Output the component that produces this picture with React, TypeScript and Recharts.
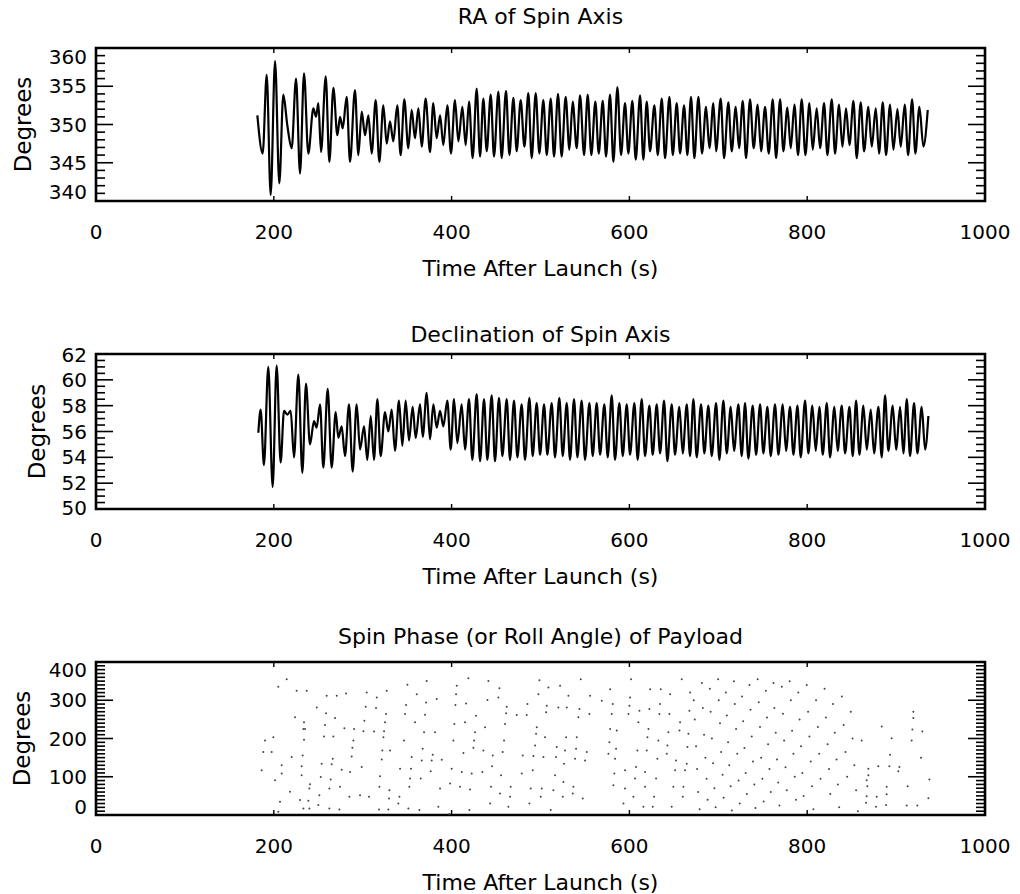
import React from "react";
import { ComposedChart, Line, Scatter, XAxis, YAxis, ReferenceArea, Label } from "recharts";

// RA of spin axis: peaks/troughs
const raTime = [
  181.5, 187.5, 192.0, 196.5, 201.4, 206.2, 210.7, 215.2, 220.1, 225.0, 229.5, 234.0, 238.8, 244.5, 247.5, 250.1,
  253.1, 258.4, 262.5, 267.0, 271.5, 274.5, 277.5, 282.0, 285.7, 291.3, 295.1, 298.9, 302.6, 306.4, 310.1, 314.6,
  318.7, 323.2, 327.0, 330.7, 334.4, 338.9, 342.7, 346.8, 351.3, 355.1, 358.8, 362.6, 366.4, 370.8, 375.7, 379.4,
  383.2, 387.0, 390.7, 395.2, 399.3, 403.8, 407.6, 412.1, 415.8, 419.6, 423.7, 428.2, 432.0,
  435.7, 439.5, 444.0, 447.7, 452.6, 456.3, 461.2, 465.0, 469.5, 473.2, 477.7, 481.9, 486.3, 490.1, 494.6, 498.7,
  503.2, 507.0, 511.5, 515.2, 519.7, 523.8, 528.3, 532.5, 536.2, 540.7, 544.5, 549.0, 553.1, 557.2, 561.7, 565.5,
  570.0, 573.7, 578.2, 582.0, 586.5, 590.6, 595.1, 598.8, 603.3, 607.1, 612.0, 615.7, 619.5, 623.2, 628.1, 631.9,
  636.4, 640.1, 645.0, 648.8, 653.2, 657.0, 661.5, 665.2, 669.3, 673.1, 677.6, 681.7, 686.2, 690.0, 694.5,
  697.5, 702.7, 706.5, 711.3, 715.1, 719.6, 723.3, 727.5, 731.2, 735.7, 739.8, 744.3, 748.1, 752.6, 756.7, 761.2,
  765.0, 769.5, 773.2, 777.7, 781.5, 785.6, 789.7, 793.8, 798.0, 802.5, 806.2, 810.7, 814.5, 819.0, 822.7, 827.6,
  831.3, 835.8, 839.6, 843.7, 847.5, 852.0, 855.7, 860.2, 864.0, 868.8, 872.6, 877.1, 880.8, 885.0, 888.7, 893.2,
  897.0, 901.5, 905.2, 909.7, 913.5, 918.0, 921.7, 926.2, 930.7, 935.6,
];
const raDeg = [
  351.2, 346.2, 356.5, 340.8, 358.3, 342.3, 353.9, 349.9, 346.9, 356.0, 343.6, 356.7, 346.2, 352.1, 351.0, 352.8,
  346.4, 356.3, 345.1, 354.8, 348.6, 351.0, 349.5, 353.6, 345.1, 354.5, 346.0, 351.7, 348.6, 351.2, 346.2, 353.2,
  345.1, 352.5, 347.5, 350.4, 347.8, 352.5, 346.0, 353.3, 346.9, 351.9, 348.2, 352.1, 347.1, 353.4, 346.4, 352.8,
  348.2, 351.2, 347.3, 352.5, 346.2, 353.2, 347.8, 352.3, 347.3, 353.0, 345.6, 354.7, 345.8,
  353.4, 346.5, 353.9, 345.8, 354.3, 345.6, 354.4, 346.0, 353.5, 346.5, 353.2, 347.1, 354.1, 345.6, 354.1, 346.2,
  353.2, 346.0, 353.4, 345.8, 354.0, 345.8, 353.6, 346.7, 353.0, 346.9, 353.8, 346.0, 353.9, 346.0, 353.0, 346.2,
  353.1, 345.8, 353.9, 345.1, 354.9, 346.0, 352.8, 346.2, 353.1, 345.4, 353.8, 345.4, 353.0, 346.5, 352.5, 346.0,
  353.4, 345.6, 353.6, 346.0, 352.8, 346.2, 352.5, 346.0, 353.6, 345.6, 353.6, 346.2, 352.3, 346.9, 352.8,
  346.5, 353.4, 345.6, 352.9, 346.5, 352.3, 346.9, 353.1, 345.6, 353.3, 346.9, 352.6, 346.5, 352.3, 346.2, 353.3,
  345.6, 353.3, 346.5, 352.2, 346.9, 352.6, 346.0, 353.3, 346.0, 352.8, 346.7, 352.1, 346.9, 352.8, 346.0, 353.3,
  346.2, 352.6, 347.1, 352.1, 347.3, 353.1, 345.6, 352.9, 346.5, 352.3, 347.1, 352.1, 346.2, 352.9, 346.0, 352.6,
  346.7, 352.0, 347.1, 352.6, 346.0, 353.3, 346.2, 352.3, 347.1, 351.9,
];

// Declination of spin axis
const decTime = [
  182.6, 185.2, 188.9, 193.8, 198.7, 203.2, 207.7, 211.5, 215.2, 219.0, 222.7, 227.6, 232.1, 236.2, 240.7, 245.2,
  248.2, 252.0, 255.7, 260.6, 265.1, 269.6, 272.6, 276.3, 280.1, 284.6, 288.7, 293.2, 297.0, 301.5, 305.2, 309.0,
  312.7, 316.5, 320.2, 325.1, 328.8, 332.6, 336.3, 340.8, 344.6, 348.3, 352.1, 356.2, 359.6, 364.5, 367.5, 372.0,
  375.7, 379.5, 383.2, 387.0, 390.7, 395.2, 399.0, 402.7, 406.5, 411.3, 415.1, 419.6, 423.3, 428.2, 432.0, 436.5,
  440.2, 445.1, 448.8, 453.3, 457.1, 462.0, 465.7, 470.2, 474.0, 478.8, 482.6, 487.5, 491.2, 495.7, 499.5, 504.0,
  507.7, 512.6, 516.3, 521.2, 525.0, 529.5, 533.2, 537.7, 541.5, 546.3, 550.1, 555.0, 558.7,
  563.2, 567.0, 571.8, 575.6, 580.1, 583.8, 588.7, 592.5, 597.0, 600.7, 605.6, 609.3, 613.8, 617.6, 622.5, 626.2,
  630.7, 634.5, 639.0, 642.7, 647.6, 651.3, 656.2, 660.0, 664.5, 668.2, 672.0, 675.7, 680.6, 684.3, 688.8, 692.6,
  697.5, 701.2, 705.7, 709.5, 714.0, 717.7, 722.6, 726.3, 730.1, 733.8, 738.7, 742.5, 747.0, 750.7, 755.2, 759.0,
  763.8, 767.6, 772.5, 776.2, 780.7, 784.5, 789.0, 792.7, 797.6, 801.3, 805.8, 809.6, 813.7, 817.5, 822.0, 825.7,
  830.6, 834.3, 838.8, 842.6, 847.5, 851.2, 855.0, 858.7, 863.2, 867.0, 871.5, 875.2, 880.1, 883.8, 887.6, 891.3,
  896.2, 900.0, 904.5, 908.2, 912.0, 915.7, 920.2, 924.0, 928.8, 932.6, 936.3,
];
const decDeg = [
  55.9, 57.7, 53.4, 61.0, 51.7, 61.1, 53.6, 57.6, 57.3, 57.6, 54.0, 60.4, 52.8, 59.7, 55.0, 56.8,
  56.3, 58.1, 53.2, 59.3, 53.2, 57.5, 55.5, 56.4, 54.1, 58.1, 52.9, 58.1, 54.6, 56.4, 53.8, 57.2,
  53.8, 58.5, 54.1, 57.5, 56.0, 57.7, 54.5, 58.4, 54.9, 58.4, 55.3, 57.9, 55.5, 58.1, 55.6, 59.0,
  55.4, 58.1, 56.3, 57.6, 56.4, 58.4, 54.6, 58.5, 55.1, 58.1, 54.6, 58.5, 53.8, 58.9, 53.7, 58.5,
  53.8, 58.8, 53.7, 58.6, 54.1, 58.5, 53.8, 58.4, 54.0, 58.1, 53.8, 58.6, 54.1, 58.2, 54.2, 58.1,
  54.2, 58.2, 54.0, 58.6, 54.1, 58.2, 53.8, 58.5, 54.0, 58.4, 53.8, 58.2, 54.1,
  58.2, 54.2, 58.1, 54.0, 58.8, 53.8, 58.2, 54.1, 58.1, 54.2, 58.2, 53.8, 58.5, 54.1, 58.0, 54.2,
  58.1, 54.3, 58.4, 53.7, 58.1, 54.2, 57.9, 54.3, 58.1, 54.1, 58.5, 54.0, 58.1, 54.3, 58.0, 54.1,
  58.2, 53.8, 58.4, 54.3, 57.9, 54.5, 58.1, 54.1, 58.2, 53.9, 58.0, 54.2, 58.1, 54.3, 57.9, 54.1,
  58.1, 54.2, 58.1, 54.5, 57.9, 54.2, 58.0, 54.0, 58.4, 54.3, 58.0, 54.5, 57.9, 54.2, 58.2, 54.0,
  57.9, 54.5, 58.0, 54.3, 57.9, 54.1, 58.4, 54.2, 58.0, 54.6, 57.7, 54.3, 57.9, 54.0, 58.8, 54.5,
  58.0, 54.6, 57.9, 54.3, 58.5, 54.1, 58.2, 54.3, 57.9, 54.6, 57.2,
];

// Spin phase samples (scattered dots)
const phaseTime = [
  186.4, 188.2, 190.1, 197.6, 199.5, 201.4, 205.1, 205.1, 207.0, 208.9, 208.9, 214.5, 218.2, 220.1, 223.9, 225.7,
  229.5, 231.4, 231.4, 232.5, 233.3, 233.3, 234.0, 234.0, 235.1, 237.0, 238.9, 240.0, 240.0, 240.8, 248.3, 250.1,
  251.3, 252.8, 253.9, 256.5, 257.6, 258.8, 259.5, 262.5, 262.5, 264.0, 265.1, 266.3, 267.0, 268.9, 270.8, 273.8,
  274.5, 276.4, 279.4, 281.3, 285.0, 285.8, 287.6, 288.4, 289.5, 290.3, 297.0, 298.9, 300.8, 301.9, 303.4, 304.5,
  307.1, 312.8, 315.0, 315.8, 318.4, 318.8, 319.5, 321.4, 322.1, 323.3, 324.0, 325.1, 326.3, 327.0, 328.9, 329.6,
  330.0, 330.8, 340.1, 341.3, 342.0, 346.5, 347.6, 348.8, 350.3, 351.4, 352.5, 353.3, 354.4, 355.1, 358.9, 360.8,
  363.8, 365.3, 366.4, 367.5, 369.0, 370.1, 371.3, 372.0, 376.5, 377.6, 378.8, 381.4, 383.3, 385.1, 387.0, 388.9,
  397.5, 398.3, 400.1, 402.0, 403.1, 404.3, 405.0, 405.8, 409.5, 411.4, 413.3, 415.1, 416.3, 418.9, 420.0, 420.8,
  422.6, 424.5, 425.3, 426.4, 427.5, 434.6, 435.8, 437.6, 440.3, 441.4, 443.3, 444.4, 445.5, 446.3, 452.6, 453.8,
  454.5, 455.6, 457.5, 459.0, 460.1, 461.3, 462.0, 463.9, 465.8, 466.5, 473.3, 478.9, 480.0, 484.5, 485.3, 487.5,
  489.0, 491.3, 492.0, 493.9, 495.0, 495.8, 497.6, 498.8, 500.3, 501.4, 503.3, 505.1, 506.3, 507.0, 508.9, 511.5,
  514.5, 516.4, 517.5, 518.3, 520.1, 522.0, 525.0, 525.8, 526.5, 527.6, 528.8, 529.5, 531.4, 536.3, 537.0, 538.9,
  540.0, 540.8, 542.6, 543.8, 545.3, 547.5, 550.1, 552.0, 555.0, 555.8, 568.9, 576.4, 577.5, 578.3, 578.3, 580.1,
  581.3, 582.0, 583.1, 583.9, 585.0, 585.8, 593.3, 595.1, 595.1, 598.9, 600.0, 600.8, 601.9, 604.5, 606.4, 607.5,
  609.0, 610.1, 611.3, 615.8, 617.6, 617.6, 619.5, 620.3, 621.4, 622.5, 623.3, 626.3, 627.8, 630.0, 631.5, 632.6,
  633.8, 634.5, 635.3, 642.0, 642.8, 643.9, 645.0, 645.8, 647.6, 649.5, 651.4, 652.5, 656.3, 657.0, 658.9, 660.0,
  660.8, 662.6, 664.5, 665.3, 666.4, 667.5, 668.3,
  672.4, 673.5, 675.0, 676.2, 677.3, 679.0, 681.5, 682.6, 684.0, 685.5, 686.8, 688.0, 690.5, 691.4, 692.8, 694.1,
  695.6, 697.0, 699.8, 700.5, 701.9, 703.2, 704.8, 706.0, 708.5, 709.6, 711.0, 712.3, 713.9, 715.2, 717.6, 718.5,
  720.0, 721.3, 722.8, 724.1, 726.7, 728.0, 729.4, 730.8, 732.1, 735.0, 736.2, 737.6, 739.0, 740.5, 741.8, 744.3,
  745.5, 746.9, 748.2, 749.6, 751.0, 753.5, 754.8, 756.0, 757.5, 759.0, 762.0, 763.1, 764.6, 766.0, 767.4, 768.8,
  771.5, 772.7, 774.0, 775.6, 777.0, 780.3, 781.6, 783.0, 784.5, 786.0, 787.3, 790.0, 791.4, 793.0, 794.5, 796.0,
  799.5, 801.0, 802.5, 804.0, 805.5, 807.0, 810.0, 812.0, 813.5, 815.0, 819.5, 821.0, 823.0, 824.5, 826.0, 829.0,
  831.0, 833.0, 834.5, 836.0, 839.0, 841.0, 843.0, 845.0, 849.0, 851.0, 853.0, 855.0, 857.0,
  861.3, 866.2, 866.9, 866.9, 867.7, 868.8, 868.8, 877.4, 878.2,
  880.0, 883.8, 888.7, 889.4, 889.4, 892.4, 893.2, 895.0, 902.5, 903.7, 911.9, 913.0, 917.5, 918.3, 919.4, 919.4,
  923.9, 928.0, 929.5, 936.3, 937.4,
];
const phaseDeg = [
  116.9, 164.5, 194.8, 164.5, 203.4, 90.9, 335.0, 8.7, 34.6, 129.9, 108.2, 355.0, 60.6, 151.5, 255.3, 324.6,
  39.0, 127.3, 103.9, 155.8, 225.1, 17.3, 242.4, 196.5, 225.1, 324.6, 37.2, 69.3, 17.3, 80.5, 281.3, 26.0,
  51.9, 99.5, 134.2, 205.2, 235.5, 265.8, 311.6, 69.3, 17.3, 92.6, 132.4, 147.2, 205.2, 253.6, 311.6, 14.7,
  73.6, 118.6, 226.8, 317.7, 47.6, 112.5, 153.2, 175.7, 194.8, 225.1, 51.9, 125.5, 219.0, 246.7, 283.1, 320.3,
  47.6, 218.1, 279.6, 307.3, 14.7, 73.6, 101.3, 145.4, 168.8, 203.4, 219.0, 242.4, 264.0, 324.6, 14.7, 43.3,
  64.9, 168.8, 30.3, 47.6, 121.2, 194.8, 264.0, 287.4, 340.2, 17.3, 73.6, 95.2, 121.2, 151.5, 242.4, 316.0,
  13.0, 95.2, 142.8, 173.1, 216.4, 262.3, 294.3, 350.6, 114.3, 142.8, 157.6, 216.4, 303.0, 21.6, 69.3, 144.6,
  2.6, 82.2, 121.2, 194.8, 238.1, 287.4, 316.0, 337.6, 73.6, 112.5, 161.9, 242.4, 291.7, 357.5, 13.0, 66.7,
  108.2, 175.7, 194.8, 216.4, 259.7, 112.5, 168.8, 229.4, 300.4, 350.6, 30.3, 73.6, 127.3, 155.8, 307.3, 331.6,
  56.3, 103.9, 164.5, 194.8, 238.1, 265.8, 283.1, 21.6, 47.6, 73.6, 261.4, 108.2, 155.8, 261.4, 290.0, 30.3,
  69.3, 116.9, 154.1, 181.8, 212.1, 229.4, 316.0, 352.3, 47.6, 69.3, 151.5, 203.4, 268.4, 285.7, 333.3, 13.0,
  64.9, 103.9, 151.5, 177.5, 281.3, 337.6, 47.6, 86.6, 134.2, 168.8, 203.4, 281.3, 311.6, 56.3, 73.6, 147.2,
  173.1, 203.4, 255.4, 277.0, 354.9, 43.3, 142.8, 164.5, 264.0, 311.6, 298.7, 160.2, 190.4, 225.1, 328.9, 264.0,
  290.0, 77.9, 108.2, 147.2, 173.1, 220.7, 30.3, 116.9, 69.3, 264.0, 285.7, 307.3, 354.9, 47.6, 95.2, 125.5,
  168.8, 242.4, 272.7, 21.6, 112.5, 73.6, 168.8, 203.4, 225.1, 277.0, 328.9, 21.6, 47.6, 95.2, 147.2, 194.8,
  264.0, 290.0, 328.9, 160.2, 181.8, 216.4, 264.0, 316.0, 21.6, 73.6, 116.9, 142.8, 220.7, 242.4, 354.9, 47.6,
  73.6, 116.9, 134.2, 177.5, 212.1, 272.7, 320.3,
  300, 250, 180, 120, 60, 15, 345, 280, 210, 150, 95, 40, 330, 270, 200, 135,
  70, 20, 355, 300, 240, 165, 105, 45, 320, 260, 190, 130, 75, 12, 350, 290,
  225, 160, 90, 30, 310, 245, 175, 110, 55, 340, 275, 205, 140, 80, 18, 355,
  295, 230, 150, 95, 35, 325, 255, 185, 120, 60, 345, 280, 215, 145, 85, 25,
  335, 265, 195, 125, 65, 350, 300, 220, 160, 100, 40, 320, 250, 180, 110, 50,
  340, 270, 205, 140, 75, 15, 300, 230, 160, 95, 330, 255, 185, 120, 55, 290,
  215, 145, 80, 20, 310, 235, 165, 100, 270, 200, 130, 65, 10,
  194.8, 32.0, 90.9, 49.3, 75.3, 121.2, 103.9, 21.6, 47.6,
  127.3, 231.1, 26.0, 73.6, 54.5, 127.3, 157.6, 200.8, 114.3, 125.5, 25.1, 75.3, 194.8, 223.3, 270.1, 253.6,
  25.1, 149.8, 218.1, 44.1, 92.6,
];

const timeTicks = [0, 200, 400, 600, 800, 1000];
const raTicks = [340, 345, 350, 355, 360];
const decTicks = [50, 52, 54, 56, 58, 60, 62];
const phaseTicks = [0, 100, 200, 300, 400];

const FONT = "'DejaVu Sans', sans-serif";
const LEFT = 96;
const RIGHT = 985;
const PLOT_W = RIGHT - LEFT;
const MID_X = (LEFT + RIGHT) / 2;

const raData = raTime.map((t, i) => ({ t, v: raDeg[i] }));
const decData = decTime.map((t, i) => ({ t, v: decDeg[i] }));
const phaseData = phaseTime.map((t, i) => ({ t, v: phaseDeg[i] }));

function steps(a: number, b: number, step: number) {
  const out: number[] = [];
  const n = Math.round((b - a) / step);
  for (let i = 0; i <= n; i++) out.push(+(a + i * step).toFixed(3));
  return out;
}

type PanelProps = {
  top: number;
  height: number;
  plotTop: number;
  plotH: number;
  domain: [number, number];
  labels: number[];
  minor: number;
  endShift: number;
  title: string;
  titleY: number;
  ylabelX: number;
  children: React.ReactNode;
  data?: any[];
};

function Panel(p: PanelProps) {
  const [lo, hi] = p.domain;
  const allTicks = steps(lo, hi, p.minor);
  const bottomMargin = p.height - p.plotTop - p.plotH - 30;

  const yTick = (props: any) => {
    const { x, y, payload } = props;
    const v = payload.value;
    const major = p.labels.includes(v);
    const len = major ? 17 : 9;
    let dy = 0;
    if (v === hi) dy = p.endShift;
    if (v === lo) dy = -p.endShift;
    return (
      <g>
        <line x1={x} x2={x + len} y1={y} y2={y} stroke="#000" strokeWidth={1.6} />
        <line x1={x + PLOT_W} x2={x + PLOT_W - len} y1={y} y2={y} stroke="#000" strokeWidth={1.6} />
        {major && (
          <text x={x - 9} y={y + dy} textAnchor="end" dominantBaseline="central" fontSize={20} fontFamily={FONT} fill="#000">
            {v}
          </text>
        )}
      </g>
    );
  };

  const xTick = (props: any) => {
    const { x, y, payload } = props;
    return (
      <g>
        <line x1={x} x2={x} y1={y} y2={y - 5} stroke="#000" strokeWidth={1.4} />
        <line x1={x} x2={x} y1={y - p.plotH} y2={y - p.plotH + 5} stroke="#000" strokeWidth={1.4} />
        <text x={x} y={y + 31} textAnchor="middle" dominantBaseline="central" fontSize={20} fontFamily={FONT} fill="#000">
          {payload.value}
        </text>
      </g>
    );
  };

  return (
    <div style={{ position: "absolute", left: 0, top: p.top, width: 1020, height: p.height }}>
      <div
        style={{
          position: "absolute",
          left: 0,
          width: 2 * MID_X,
          top: p.titleY - p.top - 13,
          height: 26,
          lineHeight: "26px",
          textAlign: "center",
          fontFamily: FONT,
          fontSize: 22,
          color: "#000",
          whiteSpace: "nowrap",
          zIndex: 1,
        }}
      >
        {p.title}
      </div>
      <ComposedChart
        width={1020}
        height={p.height}
        data={p.data}
        margin={{ top: p.plotTop, right: 1020 - RIGHT, bottom: bottomMargin, left: LEFT - 60 }}
      >
        <XAxis
          type="number"
          dataKey="t"
          domain={[0, 1000]}
          ticks={timeTicks}
          interval={0}
          height={30}
          tickSize={0}
          tickMargin={0}
          axisLine={false}
          tickLine={false}
          tick={xTick}
        >
          <Label
            content={() => (
              <text x={MID_X} y={p.plotTop + p.plotH + 67} textAnchor="middle" dominantBaseline="central" fontSize={22} fontFamily={FONT} fill="#000">
                Time After Launch (s)
              </text>
            )}
          />
        </XAxis>
        <YAxis
          type="number"
          dataKey="v"
          domain={p.domain}
          ticks={allTicks}
          interval={0}
          width={60}
          tickSize={0}
          tickMargin={0}
          axisLine={false}
          tickLine={false}
          allowDataOverflow
          tick={yTick}
        >
          <Label
            content={() => (
              <text
                x={p.ylabelX}
                y={p.plotTop + p.plotH / 2}
                textAnchor="middle"
                dominantBaseline="central"
                fontSize={23}
                fontFamily={FONT}
                fill="#000"
                transform={`rotate(-90 ${p.ylabelX} ${p.plotTop + p.plotH / 2})`}
              >
                Degrees
              </text>
            )}
          />
        </YAxis>
        {p.children}
        <ReferenceArea x1={0} x2={1000} y1={lo} y2={hi} fill="none" stroke="#000" strokeWidth={2.6} />
      </ComposedChart>
    </div>
  );
}

const Dot = (props: any) => <circle cx={props.cx} cy={props.cy} r={1} fill="#444" />;

export default function App() {
  return (
    <div style={{ position: "absolute", left: 0, top: 0, width: 1020, height: 894, background: "#fff" }}>
      <Panel top={0} height={300} plotTop={48} plotH={153} domain={[340, 360]} labels={raTicks} minor={1} endShift={9}
        title="RA of Spin Axis" titleY={17} ylabelX={23} data={raData}>
        <Line type="monotone" dataKey="v" stroke="#000" strokeWidth={2.2} dot={false} isAnimationActive={false} />
      </Panel>
      <Panel top={300} height={300} plotTop={54} plotH={155} domain={[50, 62]} labels={decTicks} minor={0.5} endShift={1}
        title="Declination of Spin Axis" titleY={335} ylabelX={37} data={decData}>
        <Line type="monotone" dataKey="v" stroke="#000" strokeWidth={2.2} dot={false} isAnimationActive={false} />
      </Panel>
      <Panel top={600} height={294} plotTop={62} plotH={153} domain={[0, 400]} labels={phaseTicks} minor={10} endShift={8}
        title="Spin Phase (or Roll Angle) of Payload" titleY={637} ylabelX={22} data={phaseData}>
        <Scatter dataKey="v" shape={Dot} isAnimationActive={false} />
      </Panel>
    </div>
  );
}
